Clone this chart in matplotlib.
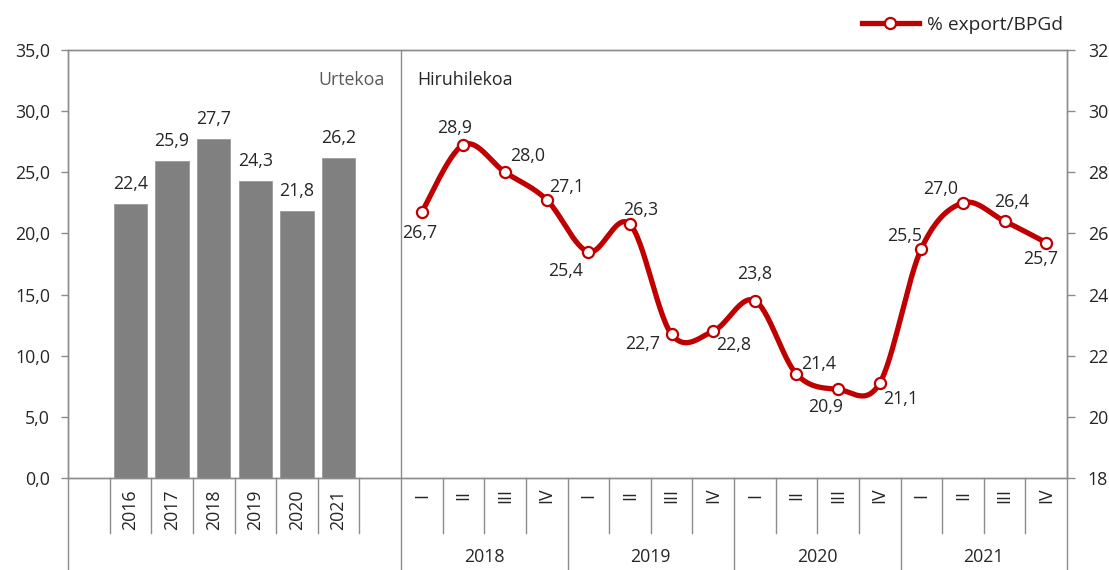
import numpy as np
import matplotlib
matplotlib.use('Agg')
import matplotlib.pyplot as plt
from matplotlib.lines import Line2D

plt.rcParams['font.family'] = ['Open Sans', 'DejaVu Sans']

# ---- data ----
bar_years = ['2016', '2017', '2018', '2019', '2020', '2021']
bar_values = [22.4, 25.9, 27.7, 24.3, 21.8, 26.2]
quarter_labels = ['I', 'II', 'III', 'IV']
line_years = ['2018', '2019', '2020', '2021']
line_values = [26.7, 28.9, 28.0, 27.1, 25.4, 26.3, 22.7, 22.8,
               23.8, 21.4, 20.9, 21.1, 25.5, 27.0, 26.4, 25.7]
series_name = '% export/BPGd'
left_title = 'Urtekoa'
right_title = 'Hiruhilekoa'
left_ticks = [0, 5, 10, 15, 20, 25, 30, 35]
right_ticks = [18, 20, 22, 24, 26, 28, 30, 32]

RED = '#C00000'
GRAY = '#808080'
SPINE = '#8c8c8c'
TXT = '#262626'
FS = 12.8

W, H = 1109, 570
fig = plt.figure(figsize=(W / 100, H / 100), dpi=100)
ax = fig.add_axes([68 / W, (H - 478) / H, (1067 - 68) / W, 428 / H])

n_left = len(bar_years) + 2
n_right = len(quarter_labels) * len(line_years)
n_total = n_left + n_right
ax.set_xlim(0, n_total)
ax.set_ylim(0, 35)

# bars
bar_x = np.arange(1, 1 + len(bar_years)) + 0.5
ax.bar(bar_x, bar_values, width=0.8, color=GRAY, edgecolor='#9a9a9a', linewidth=0.6, zorder=2)
for x, v in zip(bar_x, bar_values):
    ax.annotate(f'{v:.1f}'.replace('.', ','), (x, v), xytext=(0, 8), textcoords='offset points',
                ha='center', va='bottom', fontsize=FS, color=TXT)

# secondary axis with line
ax2 = ax.twinx()
ax2.set_ylim(18, 32)
lx = np.arange(n_left, n_total) + 0.5
ly = np.array(line_values)

def smooth(xs, ys, n=30):
    px, py = [], []
    m = len(xs)
    for i in range(m - 1):
        x0, y0 = (xs[i - 1], ys[i - 1]) if i > 0 else (xs[i], ys[i])
        x1, y1 = xs[i], ys[i]
        x2, y2 = xs[i + 1], ys[i + 1]
        x3, y3 = (xs[i + 2], ys[i + 2]) if i + 2 < m else (xs[i + 1], ys[i + 1])
        c1x, c1y = x1 + (x2 - x0) / 6, y1 + (y2 - y0) / 6
        c2x, c2y = x2 - (x3 - x1) / 6, y2 - (y3 - y1) / 6
        t = np.linspace(0, 1, n)
        bx = (1 - t) ** 3 * x1 + 3 * (1 - t) ** 2 * t * c1x + 3 * (1 - t) * t ** 2 * c2x + t ** 3 * x2
        by = (1 - t) ** 3 * y1 + 3 * (1 - t) ** 2 * t * c1y + 3 * (1 - t) * t ** 2 * c2y + t ** 3 * y2
        px.extend(bx if i == 0 else bx[1:])
        py.extend(by if i == 0 else by[1:])
    return np.array(px), np.array(py)

sx, sy = smooth(lx, ly)
ax2.plot(sx, sy, color=RED, lw=3.8, solid_capstyle='round', zorder=3)
ax2.plot(lx, ly, ls='none', marker='o', ms=8, mfc='white', mec=RED, mew=1.6, zorder=4)

# label offsets (points)
offs = [(-1.5, -15), (-6, 12), (16, 12), (14, 9), (-16, -14), (8, 10), (-21, -7), (15, -10),
        (0, 19), (16, 7), (-9, -13), (15, -11), (-12, 9), (-16, 10), (5, 14), (-4, -12)]
for x, v, (dx, dy) in zip(lx, ly, offs):
    ax2.annotate(f'{v:.1f}'.replace('.', ','), (x, v), xytext=(dx, dy), textcoords='offset points',
                 ha='center', va='center', fontsize=FS, color=TXT)

# spines & ticks
for a in (ax, ax2):
    for s in a.spines.values():
        s.set_color(SPINE)
        s.set_linewidth(1.0)
ax.set_xticks([])
ax.set_yticks(left_ticks)
ax.set_yticklabels([f'{t:.1f}'.replace('.', ',') for t in left_ticks])
ax.tick_params(axis='y', length=5, width=1, color=SPINE, pad=8, labelsize=FS, labelcolor=TXT)
ax2.set_yticks(right_ticks)
ax2.set_yticklabels([str(t) for t in right_ticks])
ax2.tick_params(axis='y', length=6, width=1, color=SPINE, pad=9, labelsize=FS, labelcolor=TXT)

# divider
ax.axvline(n_left, color=SPINE, lw=1.0, zorder=1)

# category separators below axis
tr = ax.get_xaxis_transform()
full = -0.215
inner = -0.1285
full_positions = [0, n_left] + [n_left + 4 * (k + 1) for k in range(len(line_years))]
for b in range(0, n_total + 1):
    y_end = full if b in full_positions else inner
    ax.plot([b, b], [0, y_end], transform=tr, color=SPINE, lw=1.0, clip_on=False)

for x, lab in zip(bar_x, bar_years):
    ax.text(x, -0.074, lab, transform=tr, rotation=90, ha='center', va='center', fontsize=FS, color=TXT)
for i, x in enumerate(lx):
    ax.text(x, -0.04, quarter_labels[i % 4], transform=tr, rotation=90, ha='center', va='center',
            fontsize=FS, color=TXT)
for k, yr in enumerate(line_years):
    ax.text(n_left + 4 * k + 2, -0.184, yr, transform=tr, ha='center', va='center', fontsize=FS, color=TXT)

ax.text(n_left - 0.4, 0.93, left_title, transform=tr, ha='right', va='center', fontsize=FS, color='#595959')
ax.text(n_left + 0.38, 0.93, right_title, transform=tr, ha='left', va='center', fontsize=FS, color=TXT)

# legend
h = Line2D([], [], color=RED, lw=3.8, marker='o', ms=8, mfc='white', mec=RED, mew=1.6)
fig.legend([h], [series_name], loc='center right', bbox_to_anchor=(1080 / W, 1 - 25 / H),
           frameon=False, fontsize=13.8, handlelength=3.0, handletextpad=0.4, labelcolor=TXT)

fig.savefig('out.png', dpi=100)
